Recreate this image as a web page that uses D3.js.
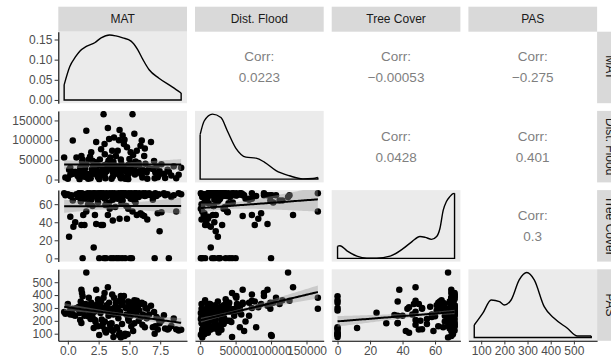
<!DOCTYPE html>
<html>
<head>
<meta charset="utf-8">
<script src="https://cdn.jsdelivr.net/npm/d3@7"></script>
<style>
  body { margin: 0; background: #ffffff; }
  svg { display: block; font-family: "Liberation Sans", Arial, Helvetica, sans-serif; }
</style>
</head>
<body>
<svg id="chart" width="611" height="364"></svg>
<script>
// ---- variables ------------------------------------------------------------
const variableNames = ["MAT", "Dist. Flood", "Tree Cover", "PAS"];

// one entry per site, same order in every array
const mat = [-0.3,-0.2,0.0,0.1,0.2,0.3,0.4,0.45,0.2,
  0.6,0.7,0.8,0.9,1.0,1.1,1.1,1.15,1.2,1.25,1.3,1.35,1.4,1.45,1.5,1.5,0.95,1.05,
  1.6,1.7,1.75,1.8,1.85,1.9,1.95,2.0,2.05,2.1,2.15,2.2,2.25,2.3,2.35,2.4,2.45,2.45,2.0,1.65,2.2,
  2.55,2.6,2.65,2.7,2.75,2.8,2.85,2.9,2.95,2.98,3.0,3.0,3.05,3.1,3.15,3.2,3.25,3.3,3.35,3.4,3.45,3.5,3.4,2.7,
  3.55,3.6,3.65,3.65,3.7,3.75,3.8,3.85,3.9,3.95,4.0,4.05,4.1,4.15,4.2,4.2,4.25,4.3,4.3,4.35,4.4,4.45,4.4,3.7,
  4.55,4.6,4.65,4.7,4.75,4.8,4.85,4.9,4.95,5.0,5.05,5.1,5.15,5.2,5.25,5.3,5.35,5.4,5.4,5.45,5.5,4.9,
  5.55,5.6,5.7,5.75,5.8,5.9,5.95,6.0,6.05,6.1,6.2,6.25,6.3,6.45,6.4,
  6.6,6.75,6.9,7.0,7.05,7.1,7.2,7.3,7.45,7.4,
  7.6,7.8,7.9,8.1,8.2,8.4,
  8.6,8.8,9.0,9.2];

const distFlood = [56000,5000,2000,25000,12000,16000,99000,15000,30000,
  20000,56000,9000,18000,30000,60000,10000,45000,50000,22000,35000,7000,28000,14000,124000,38000,1000,25000,
  14000,51000,12000,58000,3000,69000,26000,19000,33000,15000,42000,18000,44000,95000,24000,10000,36000,6000,48000,2000,29000,
  1000,51000,12000,77000,22000,13000,31000,166000,36000,90000,64000,15000,3000,26000,21000,40000,131000,48000,103000,47000,56000,28000,33000,11000,
  2000,73000,20000,8000,45000,107000,14000,35000,60000,17000,25000,73000,17000,100000,126000,11000,30000,51000,3000,40000,22000,112000,7000,28000,
  90000,101000,2000,31000,19000,82000,6000,37000,15000,52000,27000,69000,23000,41000,166000,62000,24000,116000,33000,13000,46000,1000,
  18000,73000,20000,42000,35000,86000,14000,99000,5000,25000,60000,79000,40000,2000,18000,
  28000,95000,27000,47000,3000,18000,33000,6000,22000,12000,
  39000,15000,4000,25000,20000,10000,
  34000,3000,12000,30000];

const treeCover = [72,70,71,24,46,70,64,35,69,
  40,71,68,72,69,70,37,72,0,48,71,37,66,71,68,52,72,63,
  72,70,61,72,71,65,70,58,72,12,69,48,71,38,70,66,72,62,71,60,72,
  0,70,72,37,68,71,37,72,0,70,66,71,59,0,72,69,48,70,62,72,71,0,55,72,
  71,72,65,42,0,70,72,57,71,0,69,66,72,0,70,44,71,72,68,61,72,64,0,70,
  72,70,0,72,58,44,71,69,72,70,0,66,72,0,52,70,71,64,72,70,62,55,
  72,48,70,68,72,50,71,70,48,72,47,69,72,43,70,
  72,70,65,71,0,72,69,50,30,71,
  51,72,70,71,0,68,
  70,52,72,71];

const pas = [268,255,330,262,250,268,293,245,285,
  240,300,293,310,207,441,183,416,390,270,320,240,285,330,575,300,260,350,
  305,380,280,250,215,340,300,230,320,144,270,206,190,441,290,330,367,157,260,235,310,
  90,300,260,350,210,160,181,379,300,416,194,133,120,110,320,280,460,240,340,290,150,130,175,310,
  181,404,293,120,75,380,260,310,340,150,140,300,220,90,355,107,270,392,70,320,175,330,360,250,
  392,83,100,300,250,305,96,350,200,330,280,240,157,340,293,120,270,360,181,330,290,215,
  260,355,310,200,280,330,230,340,170,250,330,150,300,293,220,
  250,318,150,268,100,157,230,133,181,210,
  200,244,140,133,140,160,
  218,135,125,130];

// kernel density estimates of each variable, [value, density]
const matDensity = [[-0.3,0.0375],[0.16,0.083],[0.6,0.106],[0.97,0.121],[1.5,0.133],[2.18,0.142],[2.7,0.154],
  [3.39,0.1613],[3.9,0.159],[4.46,0.154],[5.13,0.146],[5.67,0.125],[6.1,0.1],[6.6,0.075],[7.4,0.054],[8.5,0.032],[9.2,0.017]];
const distDensity = [[0,9.1e-6],[5700,1.19e-5],[17400,1.33e-5],[29300,1.26e-5],[38600,9.8e-6],[50500,6.3e-6],
  [64600,4.5e-6],[78800,4.3e-6],[90500,3.5e-6],[107000,1.74e-6],[126000,6.9e-7],[145000,6e-8],[159000,1.3e-7],[166000,3.4e-7]];
const treeDensity = [[0,0.0055],[1.5,0.0057],[5.8,0.0034],[11.9,0.001],[18,0.0001],[24,0.0001],[32.3,0.001],
  [40.5,0.0045],[46,0.0077],[50.7,0.0099],[54,0.0095],[57.8,0.0086],[61,0.0099],[63,0.0135],[65,0.0217],
  [67,0.0257],[69.1,0.0279],[71.1,0.0293],[72,0.0294]];
const pasDensity = [[70,0.00073],[107,0.00142],[143,0.00219],[179,0.00209],[200,0.0019],[229,0.00219],
  [264,0.00336],[297,0.00379],[329,0.00336],[372,0.0018],[415,0.00112],[472,0.00054],[515,0.00009],[575,0.00009]];

// Pearson correlations printed in the upper triangle
const corrPairs = [[0,1],[0,2],[0,3],[1,2],[1,3],[2,3]];
const corrLabels = ["0.0223", "\u22120.00053", "\u22120.275", "0.0428", "0.401", "0.3"];

// axis ticks
const matTicks = [0, 2.5, 5, 7.5];
const distTicks = [0, 50000, 100000, 150000];
const treeTicks = [0, 20, 40, 60];
const pasTicks = [100, 200, 300, 400, 500];
const densityTicks = [0, 0.05, 0.10, 0.15];

// ---- layout ---------------------------------------------------------------
const svg = d3.select("#chart");
const colX0 = 58.3, colStep = 136.7, panelW = 128.7;
const rowY0 = 31.7, rowStep = 79.2, panelH = 71.5;
const stripSize = 25;
const panelFill = "#EBEBEB", stripFill = "#D9D9D9";
const axisText = "#4D4D4D";

const columns = [mat, distFlood, treeCover, pas];
const densities = [matDensity, distDensity, treeDensity, pasDensity];
const tickSets = [matTicks, distTicks, treeTicks, pasTicks];
const tickFormats = [d3.format(".1f"), d3.format("d"), d3.format("d"), d3.format("d")];
const nVars = columns.length;

function expanded(values) {
  const [lo, hi] = d3.extent(values);
  const pad = (hi - lo) * 0.05;
  return [lo - pad, hi + pad];
}
const panelLeft = j => colX0 + j * colStep;
const panelTop = i => rowY0 + i * rowStep;

const xScales = columns.map((v, j) => d3.scaleLinear().domain(expanded(v)).range([panelLeft(j), panelLeft(j) + panelW]));
const yScales = columns.map((v, i) => d3.scaleLinear().domain(expanded(v)).range([panelTop(i) + panelH, panelTop(i)]));
const densityScales = densities.map((d, i) => {
  const m = d3.max(d, p => p[1]);
  return d3.scaleLinear().domain([-0.05 * m, 1.05 * m]).range([panelTop(i) + panelH, panelTop(i)]);
});

const defs = svg.append("defs");
for (let i = 0; i < nVars; i++) for (let j = 0; j < nVars; j++) {
  defs.append("clipPath").attr("id", `clip-${i}-${j}`)
    .append("rect").attr("x", panelLeft(j)).attr("y", panelTop(i)).attr("width", panelW).attr("height", panelH);
}

// ---- strips ---------------------------------------------------------------
variableNames.forEach((name, j) => {
  svg.append("rect").attr("x", panelLeft(j)).attr("y", rowY0 - stripSize)
    .attr("width", panelW).attr("height", stripSize).attr("fill", stripFill);
  svg.append("text").attr("x", panelLeft(j) + panelW / 2).attr("y", rowY0 - stripSize / 2)
    .attr("text-anchor", "middle").attr("dominant-baseline", "central")
    .attr("font-size", 12).attr("fill", "#1A1A1A").text(name);
});
variableNames.forEach((name, i) => {
  const sx = panelLeft(nVars - 1) + panelW;
  svg.append("rect").attr("x", sx).attr("y", panelTop(i))
    .attr("width", stripSize).attr("height", panelH).attr("fill", stripFill);
  svg.append("text")
    .attr("transform", `translate(${sx + stripSize / 2},${panelTop(i) + panelH / 2}) rotate(90)`)
    .attr("text-anchor", "middle").attr("dominant-baseline", "central")
    .attr("font-size", 12).attr("fill", "#1A1A1A").text(name);
});

// ---- regression with 95% confidence band -----------------------------------
function linearFit(xs, ys) {
  const m = xs.length, mx = d3.mean(xs), my = d3.mean(ys);
  let sxx = 0, sxy = 0;
  for (let k = 0; k < m; k++) { sxx += (xs[k] - mx) ** 2; sxy += (xs[k] - mx) * (ys[k] - my); }
  const b = sxy / sxx, a = my - b * mx;
  let sse = 0;
  for (let k = 0; k < m; k++) sse += (ys[k] - a - b * xs[k]) ** 2;
  const s = Math.sqrt(sse / (m - 2)), t = 1.976;
  const [lo, hi] = d3.extent(xs);
  return d3.range(81).map(k => {
    const x = lo + (hi - lo) * k / 80, yhat = a + b * x;
    const se = s * Math.sqrt(1 / m + (x - mx) ** 2 / sxx);
    return { x, y: yhat, lo: yhat - t * se, hi: yhat + t * se };
  });
}

// ---- panels ---------------------------------------------------------------
for (let i = 0; i < nVars; i++) {
  for (let j = 0; j < nVars; j++) {
    const g = svg.append("g");
    const xs = xScales[j], ys = yScales[i];
    if (j > i) {
      // upper triangle: correlation text
      const idx = corrPairs.findIndex(p => p[0] === i && p[1] === j);
      const cx = panelLeft(j) + panelW / 2, cy = panelTop(i) + panelH / 2;
      g.append("text").attr("x", cx).attr("y", cy - 10.5)
        .attr("text-anchor", "middle").attr("dominant-baseline", "central")
        .attr("font-size", 13.5).attr("fill", "#7F7F7F").text("Corr:");
      g.append("text").attr("x", cx).attr("y", cy + 10.5)
        .attr("text-anchor", "middle").attr("dominant-baseline", "central")
        .attr("font-size", 13.5).attr("fill", "#7F7F7F").text(corrLabels[idx]);
      continue;
    }
    g.append("rect").attr("x", panelLeft(j)).attr("y", panelTop(i))
      .attr("width", panelW).attr("height", panelH).attr("fill", panelFill);
    const inner = g.append("g").attr("clip-path", `url(#clip-${i}-${j})`);
    if (i === j) {
      // diagonal: density outline, closed down to the baseline
      const dy = densityScales[i], d = densities[i];
      const first = d[0], last = d[d.length - 1];
      const line = d3.line().x(p => xs(p[0])).y(p => dy(p[1])).curve(d3.curveMonotoneX);
      inner.append("path").attr("d", line(d))
        .attr("fill", "none").attr("stroke", "#000").attr("stroke-width", 1.4);
      inner.append("path")
        .attr("d", d3.line()([[xs(first[0]), dy(first[1])], [xs(first[0]), dy(0)], [xs(last[0]), dy(0)], [xs(last[0]), dy(last[1])]]))
        .attr("fill", "none").attr("stroke", "#000").attr("stroke-width", 1.4);
    } else {
      // lower triangle: scatter with linear fit
      const xv = columns[j], yv = columns[i];
      inner.selectAll("circle").data(d3.range(xv.length)).join("circle")
        .attr("cx", k => xs(xv[k])).attr("cy", k => ys(yv[k])).attr("r", 3.25).attr("fill", "#000");
      const fit = linearFit(xv, yv);
      inner.append("path")
        .attr("d", d3.area().x(p => xs(p.x)).y0(p => ys(p.lo)).y1(p => ys(p.hi))(fit))
        .attr("fill", "#999999").attr("fill-opacity", 0.4);
      inner.append("path")
        .attr("d", d3.line().x(p => xs(p.x)).y(p => ys(p.y))(fit))
        .attr("fill", "none").attr("stroke", "#000").attr("stroke-width", 2);
    }
  }
}

// ---- axes -----------------------------------------------------------------
function styleAxis(sel) {
  sel.selectAll(".domain").attr("stroke", "#000").attr("stroke-width", 1.1);
  sel.selectAll(".tick line").attr("stroke", "#333").attr("stroke-width", 1);
  sel.selectAll(".tick text").attr("fill", axisText).attr("font-size", 12)
    .attr("font-family", "Liberation Sans, Arial, sans-serif");
}
for (let i = 0; i < nVars; i++) {
  const scale = i === 0 ? densityScales[0] : yScales[i];
  const ticks = i === 0 ? densityTicks : tickSets[i];
  const fmt = i === 0 ? d3.format(".2f") : tickFormats[i];
  const ax = svg.append("g").attr("transform", `translate(${panelLeft(0)},0)`)
    .call(d3.axisLeft(scale).tickValues(ticks).tickFormat(fmt).tickSize(3.7).tickSizeOuter(0).tickPadding(2.2));
  styleAxis(ax);
}
for (let j = 0; j < nVars; j++) {
  const ax = svg.append("g").attr("transform", `translate(0,${panelTop(nVars - 1) + panelH})`)
    .call(d3.axisBottom(xScales[j]).tickValues(tickSets[j]).tickFormat(tickFormats[j]).tickSize(3.7).tickSizeOuter(0).tickPadding(2.2));
  styleAxis(ax);
}
</script>
</body>
</html>
